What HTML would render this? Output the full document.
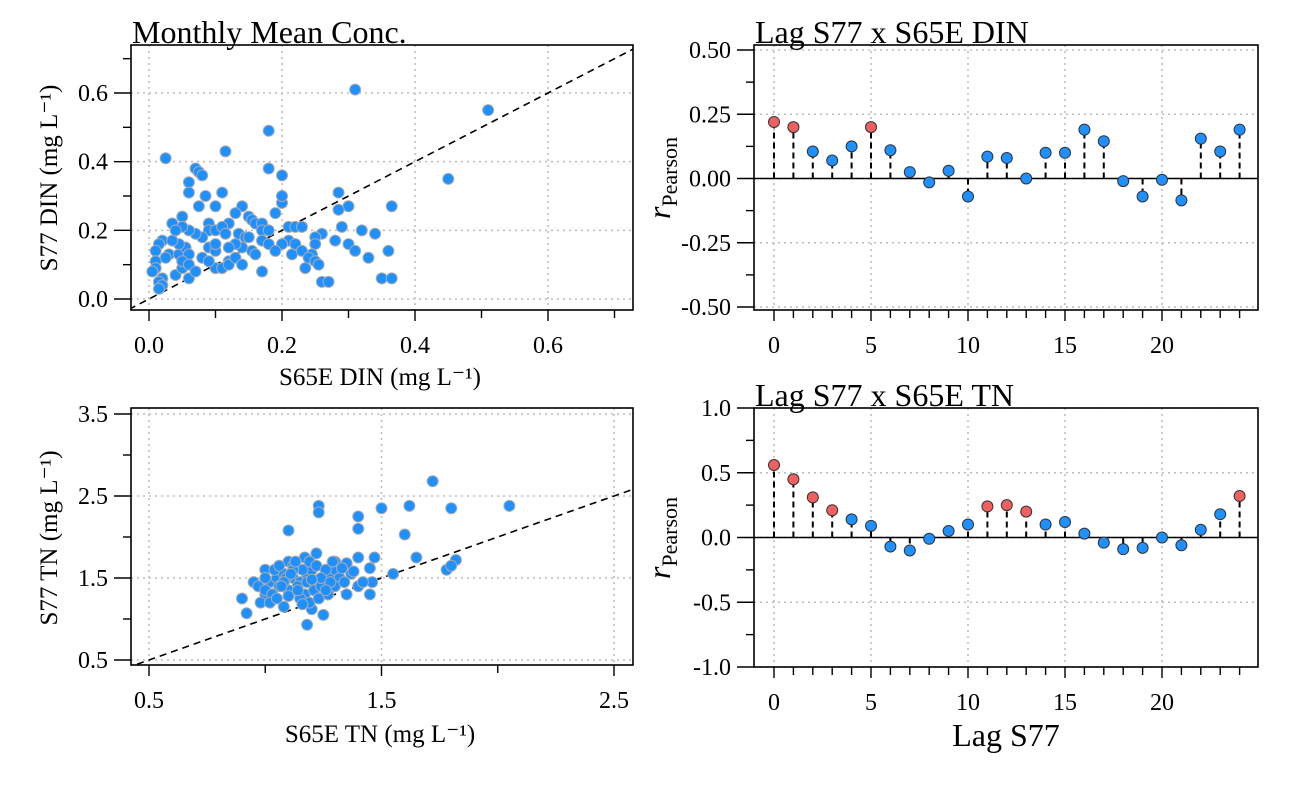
<!DOCTYPE html>
<html><head><meta charset="utf-8"><style>
body{margin:0;background:#fff}
svg text{font-family:"Liberation Serif",serif;fill:#000}
</style></head><body>
<svg id="c" width="1300" height="800" xmlns="http://www.w3.org/2000/svg"></svg>
<script>
const dinX=[0.31,0.51,0.18,0.45,0.025,0.115,0.18,0.2,0.07,0.075,0.08,0.06,0.06,0.11,0.085,0.2,0.2,0.285,0.365,0.3,0.285,0.075,0.1,0.14,0.19,0.13,0.15,0.155,0.05,0.035,0.16,0.17,0.12,0.09,0.09,0.1,0.11,0.135,0.145,0.15,0.17,0.18,0.21,0.22,0.23,0.26,0.32,0.34,0.25,0.25,0.28,0.29,0.3,0.31,0.33,0.21,0.2,0.22,0.215,0.23,0.14,0.155,0.16,0.13,0.115,0.08,0.07,0.06,0.05,0.04,0.02,0.015,0.01,0.03,0.045,0.055,0.06,0.045,0.025,0.01,0.01,0.005,0.02,0.015,0.02,0.015,0.04,0.06,0.05,0.05,0.06,0.08,0.1,0.11,0.12,0.17,0.26,0.27,0.35,0.365,0.36,0.245,0.24,0.25,0.12,0.13,0.14,0.09,0.1,0.1,0.12,0.17,0.18,0.19,0.235,0.255,0.07,0.09,0.035];
const dinY=[0.61,0.55,0.49,0.35,0.41,0.43,0.38,0.36,0.38,0.37,0.36,0.34,0.31,0.31,0.30,0.28,0.30,0.31,0.27,0.27,0.26,0.27,0.27,0.27,0.25,0.25,0.24,0.23,0.24,0.22,0.22,0.22,0.22,0.22,0.2,0.2,0.21,0.19,0.18,0.18,0.2,0.2,0.21,0.21,0.21,0.19,0.2,0.19,0.18,0.16,0.17,0.21,0.16,0.14,0.12,0.17,0.16,0.16,0.13,0.14,0.15,0.14,0.13,0.16,0.19,0.18,0.19,0.2,0.21,0.2,0.17,0.16,0.14,0.13,0.13,0.15,0.13,0.16,0.12,0.11,0.09,0.08,0.06,0.05,0.04,0.03,0.07,0.06,0.09,0.11,0.1,0.12,0.09,0.09,0.11,0.08,0.05,0.05,0.06,0.06,0.14,0.13,0.12,0.11,0.1,0.12,0.1,0.15,0.14,0.16,0.15,0.17,0.16,0.14,0.09,0.1,0.08,0.11,0.17];
const tnX=[1.72,1.23,1.23,1.5,1.62,1.8,2.05,1.4,1.4,1.1,1.6,1.65,1.82,1.78,1.55,1.8,1.0,0.95,1.1,1.17,1.22,1.0,0.98,1.08,1.2,1.25,1.18,1.35,1.4,1.46,1.45,1.3,1.35,1.4,1.45,1.47,0.92,0.9,0.97,1.02,1.05,1.08,1.12,1.15,1.18,1.2,1.25,1.28,1.3,1.32,1.0,1.03,1.06,1.1,1.14,1.17,1.21,1.24,1.27,1.3,1.34,1.02,1.05,1.09,1.12,1.16,1.19,1.22,1.26,1.29,1.33,1.37,1.0,1.04,1.08,1.12,1.15,1.19,1.23,1.27,1.07,1.11,1.14,1.18,1.24,1.28,1.06,1.13,1.2,1.26,1.38,1.42,1.16,1.1];
const tnY=[2.68,2.38,2.3,2.35,2.38,2.35,2.38,2.25,2.1,2.08,2.03,1.75,1.72,1.6,1.55,1.65,1.6,1.45,1.7,1.75,1.8,1.3,1.2,1.15,1.12,1.05,0.93,1.3,1.4,1.45,1.3,1.7,1.68,1.75,1.62,1.75,1.07,1.25,1.4,1.45,1.5,1.55,1.5,1.45,1.55,1.6,1.5,1.55,1.6,1.5,1.35,1.3,1.4,1.35,1.4,1.3,1.35,1.4,1.3,1.4,1.45,1.2,1.25,1.5,1.65,1.6,1.7,1.65,1.6,1.7,1.62,1.55,1.5,1.6,1.45,1.6,1.25,1.2,1.25,1.3,1.4,1.55,1.35,1.45,1.5,1.45,1.65,1.7,1.48,1.35,1.58,1.45,1.18,1.28];
const lags=[0,1,2,3,4,5,6,7,8,9,10,11,12,13,14,15,16,17,18,19,20,21,22,23,24];
const rDIN=[0.22,0.20,0.105,0.07,0.125,0.20,0.11,0.025,-0.015,0.03,-0.07,0.085,0.08,0.0,0.10,0.10,0.19,0.145,-0.01,-0.07,-0.005,-0.085,0.155,0.105,0.19];
const sigDIN=[1,1,0,0,0,1,0,0,0,0,0,0,0,0,0,0,0,0,0,0,0,0,0,0,0];
const rTN=[0.56,0.45,0.31,0.21,0.14,0.09,-0.07,-0.10,-0.01,0.05,0.10,0.24,0.25,0.20,0.10,0.12,0.03,-0.04,-0.09,-0.08,0.00,-0.06,0.06,0.18,0.32];
const sigTN=[1,1,1,1,0,0,0,0,0,0,0,1,1,1,0,0,0,0,0,0,0,0,0,0,1];

const svg=document.getElementById('c');const NS='http://www.w3.org/2000/svg';
function mk(t,a,p){const e=document.createElementNS(NS,t);for(const k in a)e.setAttribute(k,a[k]);(p||svg).appendChild(e);return e;}
function txt(s,x,y,size,anchor,p){const e=mk('text',{x:x,y:y,'font-size':size,'text-anchor':anchor||'middle'},p);e.textContent=s;return e;}
function lin(d0,d1,p0,p1){return v=>p0+(v-d0)/(d1-d0)*(p1-p0);}

function panel(name,box,xs,ys,xt,yt,xminor,yminor,xfmt,yfmt){
 const g=mk('g',{});
 
 
 const [L,T,R,B]=box;
 xt.forEach(v=>{mk('line',{x1:xs(v),x2:xs(v),y1:T,y2:B,stroke:'#bbb','stroke-width':1.5,'stroke-dasharray':'2,4'},g);});
 yt.forEach(v=>{mk('line',{x1:L,x2:R,y1:ys(v),y2:ys(v),stroke:'#bbb','stroke-width':1.5,'stroke-dasharray':'2,4'},g);});
 const ax=mk('g',{},g);
 
 
 xt.forEach(v=>{mk('line',{x1:xs(v),x2:xs(v),y1:B,y2:B+11,stroke:'#000','stroke-width':1.4},ax);txt(xfmt(v),xs(v),B+43,24,'middle',ax);});
 xminor.forEach(v=>{mk('line',{x1:xs(v),x2:xs(v),y1:B,y2:B+8,stroke:'#000','stroke-width':1.4},ax);});
 const ay=mk('g',{},g);
 
 
 yt.forEach(v=>{mk('line',{x1:L-17,x2:L,y1:ys(v),y2:ys(v),stroke:'#000','stroke-width':1.4},ay);txt(yfmt(v),L-23,ys(v)+8,24,'end',ay);});
 yminor.forEach(v=>{mk('line',{x1:L-8,x2:L,y1:ys(v),y2:ys(v),stroke:'#000','stroke-width':1.4},ay);});
 return g;
}
function frame(box,g){const [L,T,R,B]=box;mk('rect',{x:L,y:T,width:R-L,height:B-T,fill:'none',stroke:'#000','stroke-width':1.6},g);}
function clip(id,box){const d=mk('clipPath',{id:id});mk('rect',{x:box[0],y:box[1],width:box[2]-box[0],height:box[3]-box[1]},d);}

// Panel 1 DIN scatter
const b1=[131,45,633,310];
const x1=lin(0,0.6,149,548),y1=lin(0,0.6,299,93);
const g1=panel('din-scatter-panel',b1,x1,y1,[0,0.2,0.4,0.6],[0,0.2,0.4,0.6],[0.1,0.3,0.5,0.7],[0.1,0.3,0.5,0.7],v=>v.toFixed(1),v=>v.toFixed(1));
clip('cp1',b1);
const d1=mk('line',{x1:x1(-0.03),y1:y1(-0.03),x2:x1(0.73),y2:y1(0.73),stroke:'#000','stroke-width':1.6,'stroke-dasharray':'7,5','clip-path':'url(#cp1)'},g1);


dinX.forEach((v,i)=>{const c=mk('circle',{cx:x1(v),cy:y1(dinY[i]),r:5.5,fill:'#1E90FF',stroke:'#aaa','stroke-width':1},g1);
 
 });
frame(b1,g1);
txt('Monthly Mean Conc.',132,43,32,'start');
txt('S65E DIN (mg L\u207B\u00B9)',380,385,25);
{const t=txt('S77 DIN (mg L\u207B\u00B9)',0,0,25);t.setAttribute('transform','translate(57,178) rotate(-90)');}

// Panel 3 TN scatter
const b3=[131,408,633,665];
const x3=lin(0.5,2.5,149,614),y3=lin(0.5,3.5,660,414);
const g3=panel('tn-scatter-panel',b3,x3,y3,[0.5,1.5,2.5],[0.5,1.5,2.5,3.5],[1,2],[1,2,3],v=>v.toFixed(1),v=>v.toFixed(1));
clip('cp3',b3);
const d3=mk('line',{x1:x3(0.4),y1:y3(0.4),x2:x3(2.7),y2:y3(2.7),stroke:'#000','stroke-width':1.6,'stroke-dasharray':'7,5','clip-path':'url(#cp3)'},g3);


tnX.forEach((v,i)=>{const c=mk('circle',{cx:x3(v),cy:y3(tnY[i]),r:5.5,fill:'#1E90FF',stroke:'#aaa','stroke-width':1},g3);
 
 });
frame(b3,g3);
txt('S65E TN (mg L\u207B\u00B9)',380,742,25);
{const t=txt('S77 TN (mg L\u207B\u00B9)',0,0,25);t.setAttribute('transform','translate(57,538) rotate(-90)');}

// Lag panels
function lagPanel(name,box,ys,yt,yminor,yfmt,r,sig,title,ylabY){
 const [L,T,R,B]=box;
 const xs=lin(0,20,774,1162);
 const g=panel(name,box,xs,ys,[0,5,10,15,20],yt,[1,2,3,4,6,7,8,9,11,12,13,14,16,17,18,19,21,22,23,24],yminor,v=>String(v),yfmt);
 mk('line',{x1:L,x2:R,y1:ys(0),y2:ys(0),stroke:'#000','stroke-width':1.5},g);
 lags.forEach((l,i)=>{
  const s=mk('line',{x1:xs(l),x2:xs(l),y1:ys(0),y2:ys(r[i]),stroke:'#000','stroke-width':2,'stroke-dasharray':'6,4'},g);
  
  
  const c=mk('circle',{cx:xs(l),cy:ys(r[i]),r:5.5,fill:sig[i]?'#F06060':'#1E90FF',stroke:'#333','stroke-width':1},g);
  
  
 });
 frame(box,g);
 txt(title,755,T-2,32,'start');
 const t=mk('text',{transform:'translate(670,'+ylabY+') rotate(-90)','text-anchor':'middle','font-size':32});
 
 
 const a=mk('tspan',{'font-style':'italic'},t);a.textContent='r';
 const b=mk('tspan',{'font-size':22,dy:7},t);b.textContent='Pearson';
}
lagPanel('lag-din-panel',[754,45,1258,310],lin(-0.5,0.5,307,50),[-0.5,-0.25,0,0.25,0.5],[-0.375,-0.125,0.125,0.375],v=>v.toFixed(2),rDIN,sigDIN,'Lag S77 x S65E DIN',178);
lagPanel('lag-tn-panel',[754,408,1258,667],lin(-1,1,667,408),[-1,-0.5,0,0.5,1],[-0.75,-0.25,0.25,0.75],v=>v.toFixed(1),rTN,sigTN,'Lag S77 x S65E TN',538);
txt('Lag S77',1006,746,32);
</script>
</body></html>
